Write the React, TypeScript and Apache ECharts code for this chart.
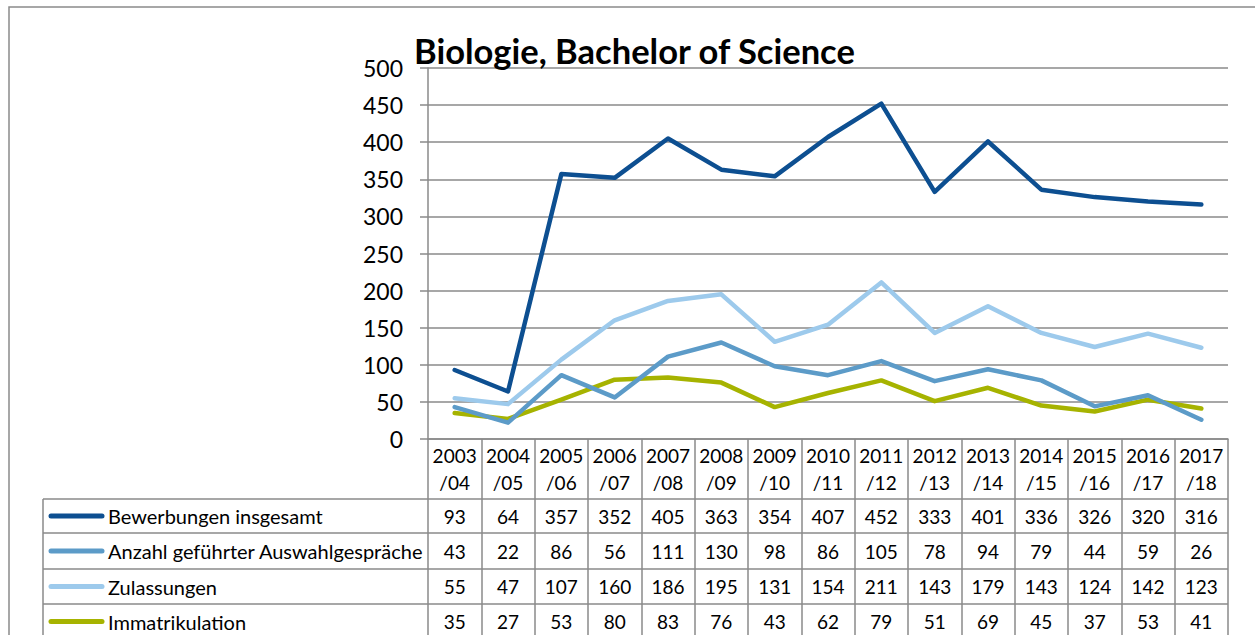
import React, { useEffect, useRef } from "react";
import * as echarts from "echarts";

const title = "Biologie, Bachelor of Science";
const categories = [
  "2003/04", "2004/05", "2005/06", "2006/07", "2007/08", "2008/09", "2009/10", "2010/11",
  "2011/12", "2012/13", "2013/14", "2014/15", "2015/16", "2016/17", "2017/18",
];
const seriesNames = [
  "Bewerbungen insgesamt",
  "Anzahl geführter Auswahlgespräche",
  "Zulassungen",
  "Immatrikulation",
];
const bewerbungen = [93, 64, 357, 352, 405, 363, 354, 407, 452, 333, 401, 336, 326, 320, 316];
const auswahlgespraeche = [43, 22, 86, 56, 111, 130, 98, 86, 105, 78, 94, 79, 44, 59, 26];
const zulassungen = [55, 47, 107, 160, 186, 195, 131, 154, 211, 143, 179, 143, 124, 142, 123];
const immatrikulation = [35, 27, 53, 80, 83, 76, 43, 62, 79, 51, 69, 45, 37, 53, 41];
const seriesData = [bewerbungen, auswahlgespraeche, zulassungen, immatrikulation];
const colors = ["#0d4f91", "#5c9bc8", "#9dcaec", "#a6b300"];

const FONT = "Lato, 'Open Sans', sans-serif";
const GRID_LEFT = 428;
const GRID_TOP = 68;
const GRID_RIGHT_X = 1228;
const AXIS_Y = 439;
const ROW_LINES = [499, 533, 569, 604, 639];
const TABLE_LEFT = 43;
const BORDER = "#8a8a8a";
const TABLE_FONT = 19;

export default function App() {
  const ref = useRef<HTMLDivElement>(null);
  useEffect(() => {
    if (!ref.current) return;
    const chart = echarts.init(ref.current, undefined, { renderer: "svg" });
    const option: any = {
      animation: false,
      backgroundColor: "#ffffff",
      grid: {
        left: GRID_LEFT,
        top: GRID_TOP,
        right: 1255 - GRID_RIGHT_X,
        bottom: 635 - AXIS_Y,
        containLabel: false,
      },
      xAxis: {
        type: "category",
        data: categories,
        boundaryGap: true,
        axisLine: { show: true, lineStyle: { color: BORDER, width: 1.5 } },
        axisTick: {
          show: true,
          interval: 0,
          alignWithLabel: false,
          length: 200,
          lineStyle: { color: BORDER, width: 1.5 },
        },
        axisLabel: {
          interval: 0,
          margin: 3,
          fontFamily: FONT,
          fontSize: TABLE_FONT,
          color: "#000",
          lineHeight: 27,
          formatter: (v: string) => v.replace("/", "\n/"),
        },
        splitLine: { show: false },
      },
      yAxis: {
        type: "value",
        min: 0,
        max: 500,
        interval: 50,
        axisLine: { show: true, lineStyle: { color: BORDER, width: 1.5 } },
        axisTick: { show: true, length: 8, lineStyle: { color: BORDER, width: 1.5 } },
        axisLabel: { fontFamily: FONT, fontSize: 23, color: "#000", margin: 25 },
        splitLine: { show: true, lineStyle: { color: BORDER, width: 1.5 } },
      },
      series: seriesNames.map((name, i) => ({
        name,
        type: "line",
        data: seriesData[i],
        symbol: "none",
        lineStyle: { color: colors[i], width: 4.5, cap: "round", join: "round" },
        itemStyle: { color: colors[i] },
        z: 10 - i,
      })),
    };
    chart.setOption(option);

    const graphics: any[] = [];
    graphics.push({
      type: "rect",
      shape: { x: 9, y: 7, width: 1400, height: 800 },
      style: { fill: "none", stroke: BORDER, lineWidth: 1.5 },
      silent: true,
    });
    graphics.push({
      type: "text",
      x: 414,
      y: 50,
      style: {
        text: title,
        fontFamily: FONT,
        fontWeight: "bold",
        fontSize: 34.5,
        fill: "#000",
        textAlign: "left",
        textVerticalAlign: "middle",
      },
    });
    ROW_LINES.forEach((y) => {
      graphics.push({
        type: "line",
        shape: { x1: TABLE_LEFT, y1: y, x2: GRID_RIGHT_X, y2: y },
        style: { stroke: BORDER, lineWidth: 1.5 },
      });
    });
    graphics.push({
      type: "line",
      shape: { x1: TABLE_LEFT, y1: ROW_LINES[0], x2: TABLE_LEFT, y2: 640 },
      style: { stroke: BORDER, lineWidth: 1.5 },
    });
    seriesNames.forEach((name, r) => {
      const cy = (ROW_LINES[r] + ROW_LINES[r + 1]) / 2;
      graphics.push({
        type: "line",
        shape: { x1: 51, y1: cy, x2: 102, y2: cy },
        style: { stroke: colors[r], lineWidth: 5, lineCap: "round" },
      });
      graphics.push({
        type: "text",
        x: 108,
        y: cy,
        style: {
          text: name,
          fontFamily: FONT,
          fontSize: 20,
          fill: "#000",
          textAlign: "left",
          textVerticalAlign: "middle",
        },
      });
      seriesData[r].forEach((v, i) => {
        const px = chart.convertToPixel({ xAxisIndex: 0 }, i) as number;
        graphics.push({
          type: "text",
          x: px,
          y: cy,
          style: {
            text: String(v),
            fontFamily: FONT,
            fontSize: TABLE_FONT,
            fill: "#000",
            textAlign: "center",
            textVerticalAlign: "middle",
          },
        });
      });
    });
    chart.setOption({ graphic: graphics });

    return () => chart.dispose();
  }, []);
  return (
    <div
      ref={ref}
      style={{ position: "absolute", left: 0, top: 0, width: 1255, height: 635, background: "#fff" }}
    />
  );
}
